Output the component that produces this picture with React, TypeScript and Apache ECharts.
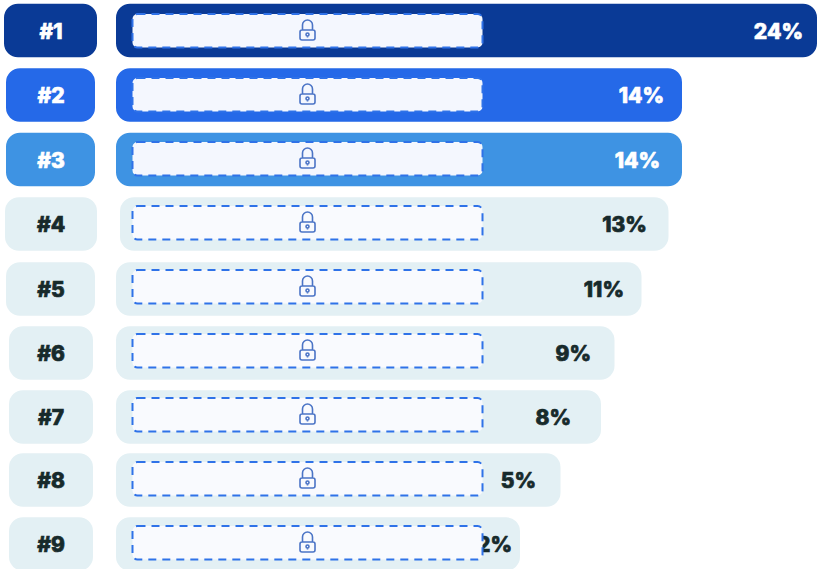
import React, { useEffect, useRef } from "react";
import * as echarts from "echarts";

const ranks = ["#1", "#2", "#3", "#4", "#5", "#6", "#7", "#8", "#9"];
const shares = [24, 14, 14, 13, 11, 9, 8, 5, 2];
const fills = ["#0a3a96", "#2569e8", "#3e93e3", "#e3f0f4", "#e3f0f4", "#e3f0f4", "#e3f0f4", "#e3f0f4", "#e3f0f4"];
const inks = ["#ffffff", "#ffffff", "#ffffff", "#172a2b", "#172a2b", "#172a2b", "#172a2b", "#172a2b", "#172a2b"];

// Per-row drawing offsets: vertical drift of the pills, rank pill edges, bar start, label gap.
const rowDrift = [0, 0.5, 1, 1.5, 2.5, 2.5, 2.5, 1.5, 1.5];
const rankLeft = [4, 6, 6, 5, 6, 9, 9, 9, 9];
const rankRight = [97, 95, 95, 97, 95, 93, 93, 93, 93];
const barInset = [0, 0, 0, 4, 0, 0, 0, 0, 0];
const labelGap = [14, 18, 22, 21.5, 17.5, 23.5, 30, 24.5, 8];

const LOCK =
  "M-7.5 1 A2 2 0 0 1 -5.5 -1 H5.5 A2 2 0 0 1 7.5 1 V7 A2 2 0 0 1 5.5 9 H-5.5 A2 2 0 0 1 -7.5 7 Z " +
  "M-5 -1 V-6 A5 5 0 0 1 5 -6 V-1 " +
  "M1.5 3.5 A1.5 1.5 0 1 1 -1.5 3.5 A1.5 1.5 0 1 1 1.5 3.5 Z M0 5 V6.5";

const FONT = "Inter, 'Open Sans', sans-serif";
const AXIS_MIN = -27.926;

function boldText(x: number, y: number, text: string, fill: string, align: string) {
  return {
    type: "text",
    style: {
      x, y, text, fill, font: `800 21px ${FONT}`,
      stroke: fill, lineWidth: 0.7,
      textAlign: align, textVerticalAlign: "middle",
    },
  };
}

function renderRow(_params: any, api: any) {
  const i = api.value(1) as number;
  const share = api.value(0) as number;
  const [end, mid] = api.coord([share, i]);
  const [start] = api.coord([AXIS_MIN, i]);
  const y = mid + rowDrift[i];
  const h = 53.5;
  return {
    type: "group",
    children: [
      {
        type: "rect",
        shape: { x: rankLeft[i], y: y - h / 2, width: rankRight[i] - rankLeft[i], height: h, r: 14 },
        style: { fill: fills[i] },
      },
      boldText(51, y + 0.5, ranks[i], inks[i], "center"),
      {
        type: "rect",
        shape: { x: start + barInset[i], y: y - h / 2, width: end - start - barInset[i], height: h, r: 14 },
        style: { fill: fills[i] },
      },
      boldText(end - labelGap[i], y + 0.5, `${share}%`, inks[i], "right"),
      {
        type: "rect",
        shape: { x: 132.5, y: mid - 16.5, width: 350, height: 33.5, r: 5 },
        style: { fill: i < 3 ? "#f4f7fe" : "#f9fafe", stroke: "#2f72e8", lineWidth: 2, lineDash: [8, 6] },
      },
      {
        type: "path",
        shape: { pathData: LOCK, x: 300, y: mid - 10.5, width: 15, height: 20, layout: "cover" },
        style: { fill: "none", stroke: "#4b74c6", lineWidth: 1.6 },
      },
    ],
  };
}

export default function App() {
  const host = useRef<HTMLDivElement>(null);
  useEffect(() => {
    const chart = echarts.init(host.current!, undefined, { renderer: "svg" });
    chart.setOption({
      animation: false,
      grid: { left: 116, right: 0, top: 8.5, height: 576 },
      xAxis: { type: "value", min: AXIS_MIN, max: 24, show: false },
      yAxis: { type: "category", data: ranks, inverse: true, show: false },
      series: [
        {
          type: "custom",
          clip: false,
          renderItem: renderRow,
          encode: { x: 0, y: 1 },
          data: shares.map((s, i) => [s, i]),
        },
      ],
    });
    return () => chart.dispose();
  }, []);
  return (
    <div style={{ position: "absolute", left: 0, top: 0, width: 817, height: 569, overflow: "hidden", background: "#fff" }}>
      <div ref={host} style={{ position: "absolute", left: 0, top: -10, width: 817, height: 600 }} />
    </div>
  );
}
